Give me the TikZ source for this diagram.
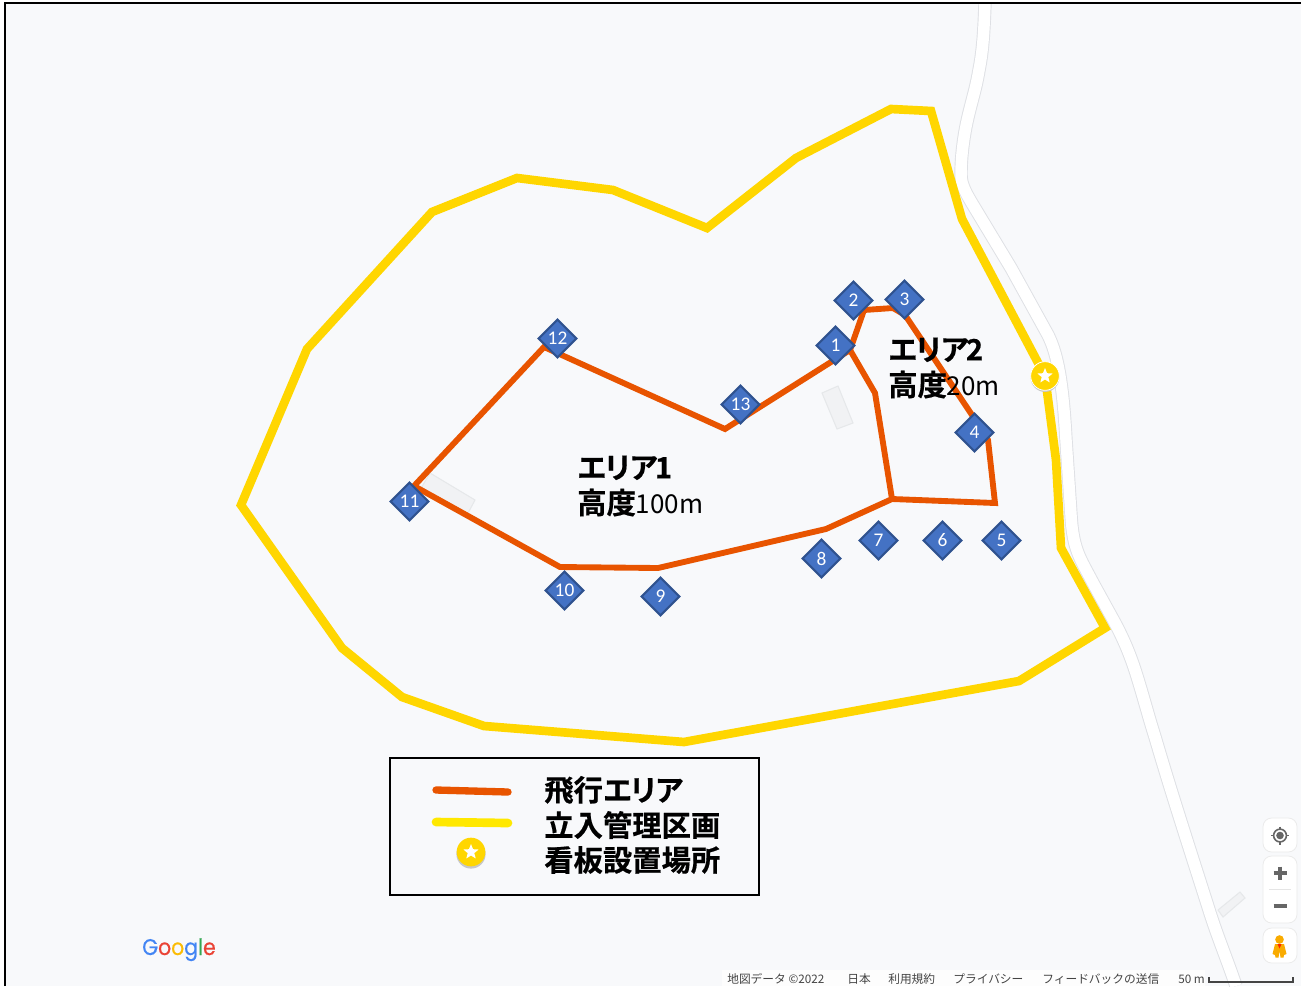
\documentclass[tikz,border=0pt]{standalone}
\usepackage{fontspec}
\usetikzlibrary{shapes.geometric}
\setmainfont{Carlito}
\newfontfamily\jpb{Noto Sans CJK JP}[BoldFont={* Bold},BoldFeatures={FakeBold=0.5}]
\newfontfamily\jpr{Noto Sans CJK JP}
\newfontfamily\logofont{Poppins}[FakeStretch=0.9,FakeBold=0.4]
\newcommand{\tk}{\kern-2.6pt}
\definecolor{mapbg}{HTML}{F8F9FB}
\definecolor{zoneY}{HTML}{FFD600}
\definecolor{zoneO}{HTML}{E85400}
\definecolor{legY}{HTML}{FFE800}
\definecolor{mk}{HTML}{4472C4}
\definecolor{mkb}{HTML}{2F528F}
\definecolor{roadedge}{HTML}{DEE0E4}
\definecolor{bld}{HTML}{F1F2F4}
\definecolor{bldb}{HTML}{E6E8EA}
\definecolor{ctl}{HTML}{666666}
\definecolor{foot}{HTML}{444444}
\definecolor{peg}{HTML}{F9AB00}
\tikzset{
  marker/.style={diamond,draw=mkb,fill=mk,line width=1.6pt,inner sep=0pt,minimum width=29pt,minimum height=29pt,text=white,font=\fontsize{14.5}{14.5}\selectfont},
  yline/.style={draw=zoneY,line width=6.5pt,line join=miter},
  oline/.style={draw=zoneO,line width=4.4pt,line join=miter},
  building/.style={fill=bld,draw=bldb,line width=.8pt},
  area/.style={anchor=west,align=left,inner sep=0pt,font=\fontsize{22}{26.5}\selectfont\jpb\bfseries},
  legtext/.style={anchor=west,inner sep=0pt,font=\fontsize{22}{22}\selectfont\jpb\bfseries},
  badge/.style={circle,fill=zoneY,draw=white,line width=.6pt,minimum size=21.5pt,inner sep=0pt},
  badgestar/.style={star,star points=5,star point ratio=2.3,fill=white,minimum size=12pt,inner sep=0pt},
  ctlbox/.style={fill=white,draw=black!8,line width=.6pt,rounded corners=6.5pt},
  foottext/.style={anchor=base west,inner sep=0pt,text=foot,font=\fontsize{8.8}{9}\selectfont\jpr},
}
\begin{document}
\begin{tikzpicture}[x=.75pt,y=-.75pt]
\useasboundingbox (0,0) rectangle (1301,986);
\fill[white] (0,0) rectangle (1301,986);
\fill[mapbg] (5,3) rectangle (1301,986);
% road
\def\roadpath{(985,3) .. controls (984,30) and (983,50) .. (979,70) .. controls (976,88) and (972,100) .. (968,117) .. controls (964,134) and (961,155) .. (961,175) .. controls (961,185) and (967,195) .. (973,205) -- (1011,268) -- (1048,335) .. controls (1058,355) and (1063,385) .. (1066,440) -- (1071,515) .. controls (1073,550) and (1080,558) .. (1093,583) -- (1115,623) .. controls (1125,642) and (1130,655) .. (1135,670) .. controls (1143,695) and (1148,715) .. (1155,737) .. controls (1172,795) and (1190,850) .. (1210,913) .. controls (1218,938) and (1228,962) .. (1236,986)}
\draw[roadedge,line width=10pt] \roadpath;
\draw[white,line width=8.6pt] \roadpath;
% buildings
\filldraw[building] (822,393) -- (838,386) -- (853,423) -- (837,429) -- cycle;
\filldraw[building] (430,473) -- (475,500) -- (467,515) -- (420,490) -- cycle;
\filldraw[building] (1218,910) -- (1240,892) -- (1245,898) -- (1223,917) -- cycle;
% frame
\draw[black,line width=1.8pt] (5,986) -- (5,3) -- (1301,3);
% restricted zone
\draw[yline] (931,111) -- (891,109) -- (796,158) -- (707,228) -- (613,190) -- (517,178) -- (432,212) -- (307,349) -- (241,505) -- (342,648) -- (402,697) -- (484,726) -- (684,742) -- (1019,681) -- (1105,628) -- (1061,548) -- (1056,460) -- (1045,376) -- (962,219) -- cycle;
% flight areas
\draw[oline] (544,347) -- (725,429) -- (850,350) -- (875,393) -- (892,499) -- (826,529) -- (658,568) -- (560,567) -- (414,486) -- cycle;
\draw[oline] (850,350) -- (864,310) -- (893,308) -- (905,315) -- (972,415) -- (988,440) -- (995,503) -- (892,499);
% sign
\fill[black!22] (1045,377.5) circle (14.4);
\node[badge] (sign) at (1045,376) {};
\node[badgestar] (signstar) at (sign) {};
% markers
\node[marker] (m1) at (835.5,345.5) {1};
\node[marker] (m2) at (853.5,300.5) {2};
\node[marker] (m3) at (904.5,299.5) {3};
\node[marker] (m4) at (974.5,432.5) {4};
\node[marker] (m5) at (1001.5,540.5) {5};
\node[marker] (m6) at (942.5,540.5) {6};
\node[marker] (m7) at (878.5,540.5) {7};
\node[marker] (m8) at (821.5,558.5) {8};
\node[marker] (m9) at (660.5,596.5) {9};
\node[marker] (m10) at (564.5,590.5) {10};
\node[marker] (m11) at (409.5,501.5) {11};
\node[marker] (m12) at (557.5,338.5) {12};
\node[marker] (m13) at (740.5,404.5) {13};
% area labels
\node[area] (a1) at (577,486) {エ\tk リ\tk ア\tk 1\\高度{\jpr\mdseries\fontsize{19.5}{26}\selectfont 100m}};
\node[area] (a2) at (888,368) {エ\tk リ\tk ア\tk 2\\高度{\jpr\mdseries\fontsize{19.5}{26}\selectfont 20m}};
% legend
\draw[black,line width=1.9pt,fill=mapbg] (390,758) rectangle (759,895);
\coordinate (lo1) at (436,790); \coordinate (lo2) at (508,792);
\coordinate (ly1) at (436,822); \coordinate (ly2) at (508,823);
\draw[zoneO,line width=5.5pt,line cap=round] (lo1) -- (lo2);
\draw[legY,line width=6.5pt,line cap=round] (ly1) -- (ly2);
\fill[black!22] (471,854) circle (14.6);
\node[badge,draw=none] (lsign) at (471,852) {};
\node[badgestar] (lstar) at (lsign) {};
\node[legtext] (l1) at (544,790) {飛行エ\tk リ\tk ア};
\node[legtext] (l2) at (544,825) {立入管理区画};
\node[legtext] (l3) at (544,860) {看板設置場所};
% google logo
\node[anchor=base west,inner sep=0pt,font=\fontsize{17}{17}\selectfont\logofont] (logo) at (142,955) {\textcolor[HTML]{4285F4}{G}\textcolor[HTML]{EA4335}{o}\textcolor[HTML]{FBBC05}{o}\textcolor[HTML]{4285F4}{g}\textcolor[HTML]{34A853}{l}\textcolor[HTML]{EA4335}{e}};
% map controls
\filldraw[ctlbox] (1263,818) rectangle (1297,852);
\filldraw[ctlbox] (1263,856) rectangle (1297,923);
\filldraw[ctlbox] (1263,928) rectangle (1297,963);
\draw[black!10,line width=.6pt] (1269,889.5) -- (1291,889.5);
\draw[ctl,line width=1.2pt] (1280,835.5) circle (6.4);
\fill[ctl] (1280,835.5) circle (3.8);
\draw[ctl,line width=1.2pt] (1280,826.5) -- (1280,829.5) (1280,841.5) -- (1280,844.5) (1271,835.5) -- (1274,835.5) (1286,835.5) -- (1289,835.5);
\draw[ctl,line width=2.6pt] (1273.5,873) -- (1286.5,873) (1280,866.5) -- (1280,879.5);
\draw[ctl,line width=2.6pt] (1273.5,906) -- (1286.5,906);
% pegman
\fill[peg] (1279.5,939.5) circle (4.3);
\fill[peg] (1275,944) -- (1284,944) -- (1286.5,954) -- (1284,955) -- (1283.5,957.5) -- (1280.5,957.5) -- (1279.5,951) -- (1278.5,957.5) -- (1275.5,957.5) -- (1275,955) -- (1272.5,954) -- cycle;
\fill[red!70!orange] (1277.5,944) -- (1281.5,944) -- (1279.5,948.5) -- cycle;
% footer
\fill[white,opacity=.75] (722,970) rectangle (1205,986);
\node[foottext] (f1) at (727,983) {地図データ ©2022};
\node[foottext] (f2) at (847,983) {日本};
\node[foottext] (f3) at (888,983) {利用規約};
\node[foottext] (f4) at (953,983) {プライバシー};
\node[foottext] (f5) at (1042,983) {フィードバックの送信};
\node[foottext] (f6) at (1178,983) {50 m};
\draw[foot,line width=1pt] (1209,977) -- (1209,982) -- (1293,982) -- (1293,977);
\end{tikzpicture}
\end{document}
